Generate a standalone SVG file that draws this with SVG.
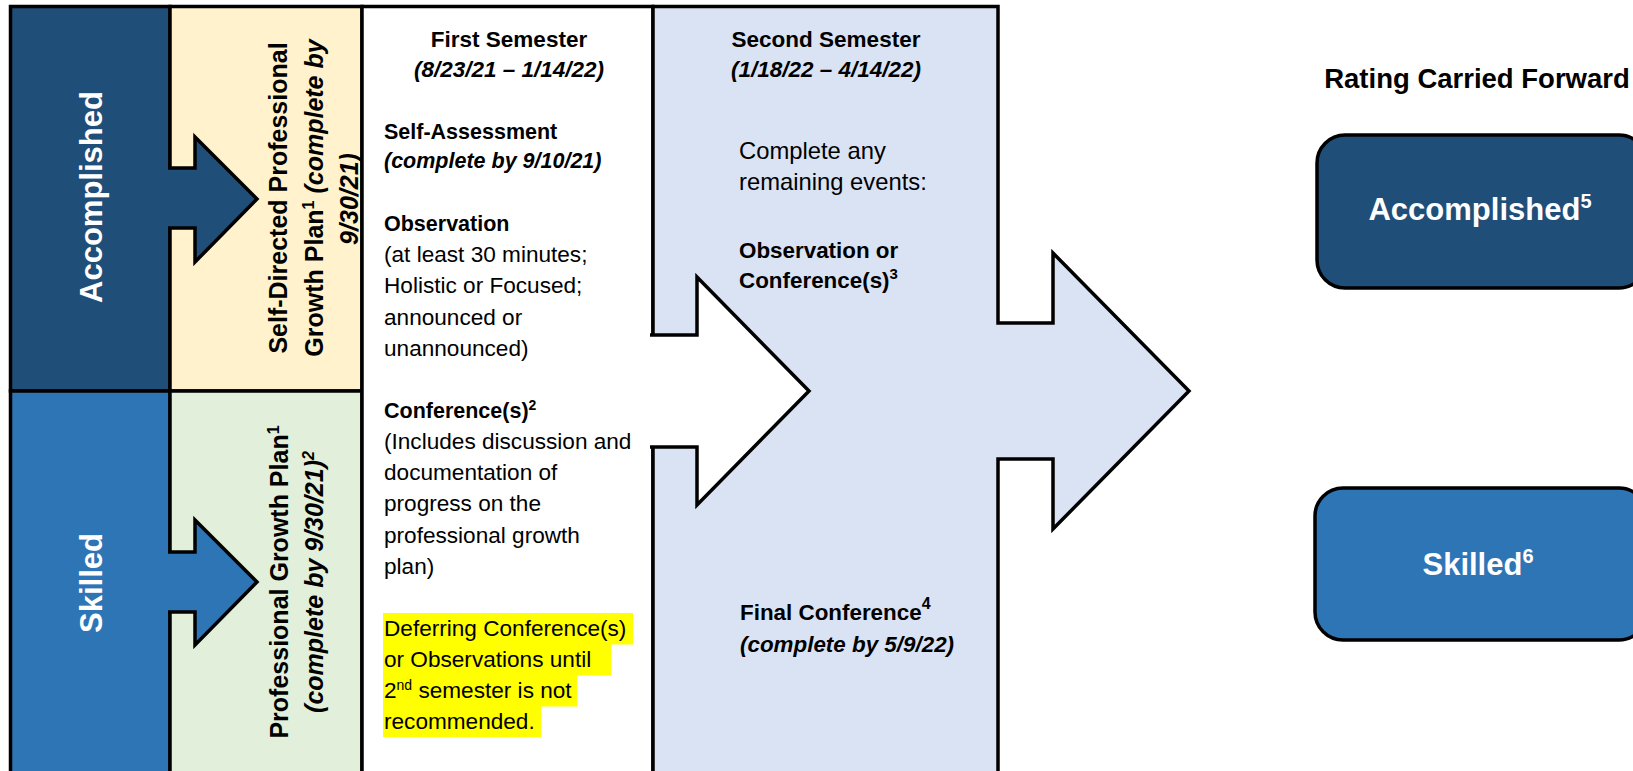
<svg xmlns="http://www.w3.org/2000/svg" width="1633" height="771" viewBox="0 0 1633 771">
<style>
text{font-family:'Liberation Sans',Arial,sans-serif;fill:#000}
.ln{stroke:#000;stroke-width:3.5;stroke-linejoin:miter}
.w{fill:#fff}
.i{font-style:italic}
.r1{font-size:22.6px}
.b1{font-size:21.5px;font-weight:bold}
.h{font-size:22.5px;font-weight:bold}
.r2{font-size:23.8px}
.b2{font-size:22.4px;font-weight:bold}
.rot{font-size:25px;font-weight:bold}
.big{font-size:31px;font-weight:bold}
.hl{fill:#FFFF00}
</style>
<rect x="0" y="0" width="1633" height="771" fill="#fff"/>

<g id="col-accomplished">
<rect class="ln" x="10.5" y="6.5" width="159.5" height="384.5" fill="#1F4E79"/>
<text class="big w" transform="translate(102,197) rotate(-90)" text-anchor="middle">Accomplished</text>
</g>

<g id="col-skilled">
<rect class="ln" x="10.5" y="391" width="159.5" height="410" fill="#2E75B6"/>
<text class="big w" transform="translate(102,583) rotate(-90)" text-anchor="middle">Skilled</text>
</g>

<g id="col-self-directed-plan">
<rect class="ln" x="170" y="6.5" width="192" height="384.5" fill="#FFF2CC"/>
<text class="rot" transform="translate(287,198) rotate(-90)" text-anchor="middle">Self-Directed Professional</text>
<text class="rot" transform="translate(323,198) rotate(-90)" text-anchor="middle">Growth Plan<tspan dy="-9" font-size="16">1</tspan><tspan dy="9" font-style="italic"> (complete by</tspan></text>
<text class="rot i" transform="translate(358,199) rotate(-90)" text-anchor="middle">9/30/21)</text>
</g>

<g id="col-growth-plan">
<rect class="ln" x="170" y="391" width="192" height="410" fill="#E2EFDA"/>
<text class="rot" transform="translate(288,582) rotate(-90)" text-anchor="middle">Professional Growth Plan<tspan dy="-9" font-size="16">1</tspan></text>
<text class="rot i" transform="translate(323,582) rotate(-90)" text-anchor="middle">(complete by 9/30/21)<tspan dy="-9" font-size="16">2</tspan></text>
</g>

<g id="first-semester">
<rect class="ln" x="362" y="6.5" width="291" height="800" fill="#fff"/>
<text class="h" x="509" y="47" text-anchor="middle">First Semester</text>
<text class="h i" x="509" y="77" text-anchor="middle">(8/23/21 – 1/14/22)</text>
<text class="b1" x="384" y="139">Self-Assessment</text>
<text class="b1 i" x="384" y="168">(complete by 9/10/21)</text>
<text class="b1" x="384" y="231">Observation</text>
<text class="r1" x="384" y="262">(at least 30 minutes;</text>
<text class="r1" x="384" y="293">Holistic or Focused;</text>
<text class="r1" x="384" y="325">announced or</text>
<text class="r1" x="384" y="356">unannounced)</text>
<text class="b1" x="384" y="418">Conference(s)<tspan dy="-8" font-size="14">2</tspan></text>
<text class="r1" x="384" y="449">(Includes discussion and</text>
<text class="r1" x="384" y="480">documentation of</text>
<text class="r1" x="384" y="511">progress on the</text>
<text class="r1" x="384" y="543">professional growth</text>
<text class="r1" x="384" y="574">plan)</text>
<rect class="hl" x="383" y="613" width="250" height="31.5"/>
<rect class="hl" x="383" y="644" width="228" height="31.5"/>
<rect class="hl" x="383" y="675" width="194" height="31.5"/>
<rect class="hl" x="383" y="706" width="158" height="31"/>
<text class="r1" x="384" y="636">Deferring Conference(s)</text>
<text class="r1" x="384" y="667">or Observations until</text>
<text class="r1" x="384" y="698">2<tspan dy="-8" font-size="14">nd</tspan><tspan dy="8"> semester is not</tspan></text>
<text class="r1" x="384" y="729">recommended.</text>
</g>

<g id="second-semester">
<path class="ln" fill="#DAE3F3" d="M653,6.5 H998 V323 H1053 V253 L1189,391 L1053,529 V459 H998 V800 H653 Z"/>
<text class="h" x="826" y="47" text-anchor="middle">Second Semester</text>
<text class="h i" x="826" y="77" text-anchor="middle">(1/18/22 – 4/14/22)</text>
<text class="r2" x="739" y="159">Complete any</text>
<text class="r2" x="739" y="190">remaining events:</text>
<text class="b2" x="739" y="258">Observation or</text>
<text class="b2" x="739" y="288">Conference(s)<tspan dy="-9" font-size="15">3</tspan></text>
<text class="b2" x="740" y="620">Final Conference<tspan dy="-11" font-size="16">4</tspan></text>
<text class="b2 i" x="740" y="652">(complete by 5/9/22)</text>
</g>

<g id="connectors">
<path class="ln" fill="#1F4E79" d="M168,168 H195 V137 L257,199 L195,262 V228 H168"/>
<path class="ln" fill="#2E75B6" d="M168,552 H195 V520 L257,582 L195,645 V612 H168"/>
<path class="ln" fill="#fff" d="M650,335 H697 V277 L809,391 L697,505 V447 H650"/>
</g>

<g id="rating-header">
<text font-size="27.5" font-weight="bold" x="1477" y="88" text-anchor="middle">Rating Carried Forward</text>
</g>

<g id="box-accomplished">
<rect class="ln" stroke-width="4" x="1317" y="135" width="330" height="153" rx="28" fill="#1F4E79"/>
<text class="big w" x="1480" y="220" text-anchor="middle">Accomplished<tspan dy="-12" font-size="20">5</tspan></text>
</g>

<g id="box-skilled">
<rect class="ln" stroke-width="4" x="1315" y="488" width="332" height="152" rx="28" fill="#2E75B6"/>
<text class="big w" x="1478" y="575" text-anchor="middle">Skilled<tspan dy="-12" font-size="20">6</tspan></text>
</g>
</svg>
